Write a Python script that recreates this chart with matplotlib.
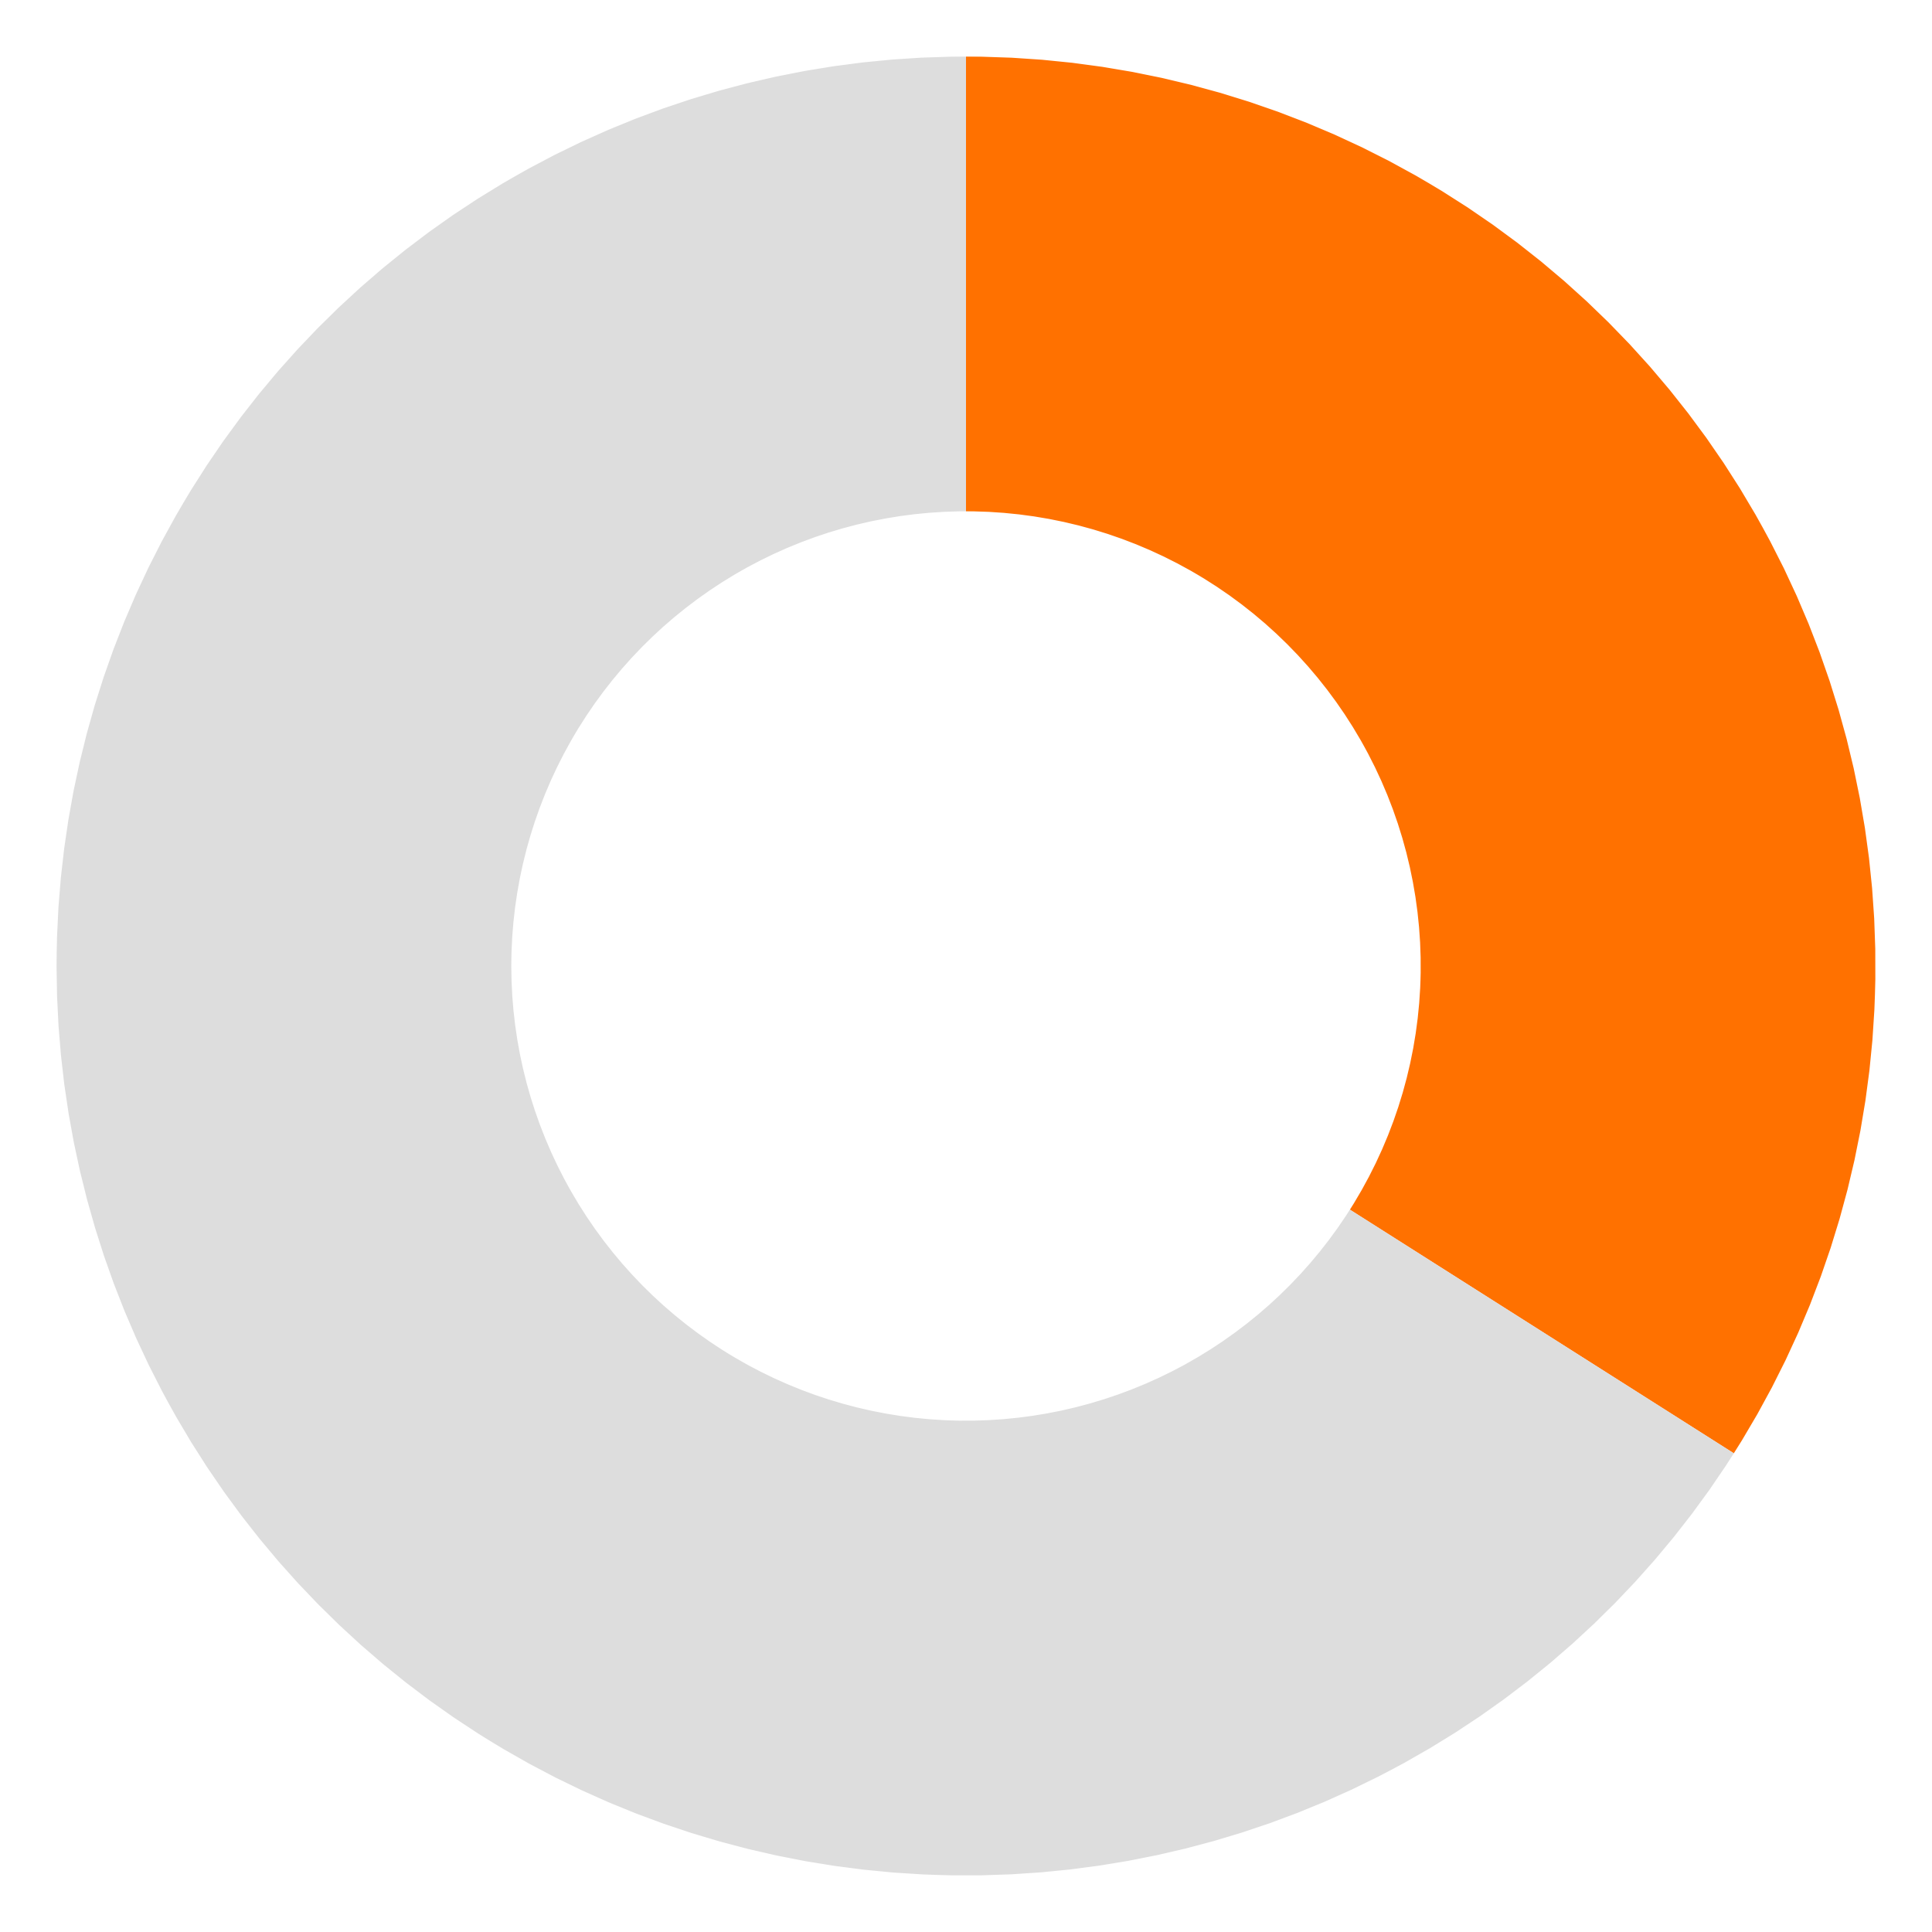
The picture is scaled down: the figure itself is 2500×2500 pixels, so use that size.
import matplotlib
matplotlib.use("Agg")
import matplotlib.pyplot as plt

labels = ["Done", "Remaining"]
values = [34, 66]
colors = ["#FF7100", "#DDDDDD"]

fig = plt.figure(figsize=(10, 10), dpi=250)
ax = fig.add_axes([0.0293, 0.0293, 0.9414, 0.9414])
ax.pie(values, colors=colors, startangle=90, counterclock=False,
       radius=1.0, wedgeprops=dict(width=0.5, edgecolor="none"))
ax.set_xlim(-1, 1)
ax.set_ylim(-1, 1)
ax.set_aspect("equal")
ax.axis("off")

fig.savefig("out.png", dpi=250, facecolor="white")
